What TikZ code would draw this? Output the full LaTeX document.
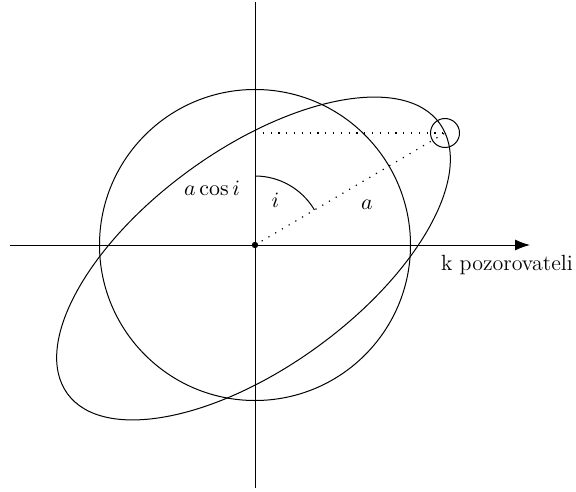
\documentclass[tikz,border=0pt]{standalone}
\usetikzlibrary{arrows.meta}
\begin{document}
\begin{tikzpicture}[x=0.5pt,y=-0.5pt,
  axis/.style={line width=0.5pt},
  curve/.style={line width=0.5pt},
  dotline/.style={line width=0.6pt, dash pattern=on 0.6pt off 3.3pt},
  lbl/.style={font=\fontsize{11}{13}\selectfont, inner sep=0pt}]
\useasboundingbox (0,0) rectangle (576,491);
\coordinate (O) at (255,245);
\coordinate (XL) at (10,245);
\coordinate (XR) at (530,245);
\coordinate (YT) at (255,2);
\coordinate (YB) at (255,488);
\coordinate (E) at (253.5,258.5);
\coordinate (H) at (255,133);
\draw[axis] (YT) -- (YB);
\draw[axis,-{Latex[length=7.5pt,width=5.5pt]}] (XL) -- (XR);
\draw[curve] (O) circle[radius=77.75pt];
\draw[curve, rotate around={36:(E)}] (E) ellipse[x radius=115pt, y radius=54.5pt];
\fill (O) circle[radius=1.6pt];
\node[draw, circle, minimum size=14.5pt, inner sep=0pt, line width=0.5pt] (P) at (445,133) {};
\draw[dotline] (H) -- (P.center);
\draw[dotline] (O) -- (P.center);
\draw[curve] ([yshift=34.5pt]O) arc[start angle=90,end angle=30.5,radius=34.5pt];
\node[lbl] (acos) at (212,188) {$a\cos i$};
\node[lbl] (ilab) at (275.5,200) {$i$};
\node[lbl] (alab) at (367,205) {$a$};
\node[lbl] (kp) at (507,265) {k pozorovateli};
\end{tikzpicture}
\end{document}
